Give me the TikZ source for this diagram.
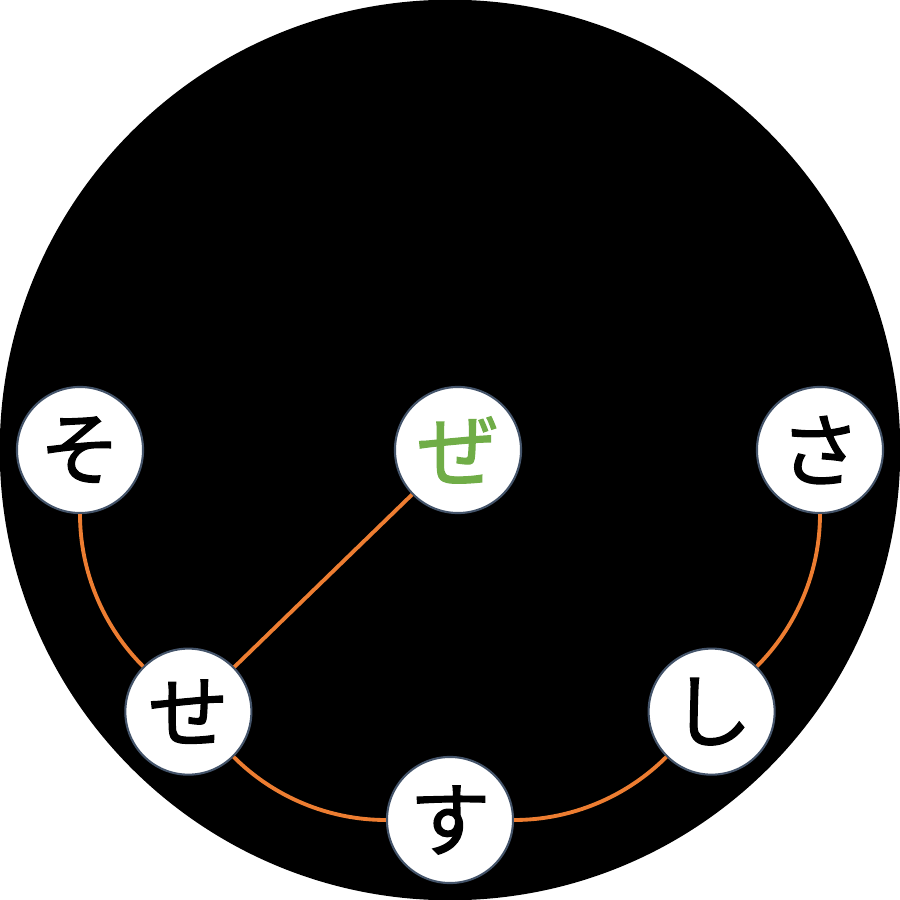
\documentclass[tikz,border=0pt]{standalone}
\usepackage{fontspec}
\newfontfamily\jpfont[FakeBold=1.6]{Noto Sans CJK JP}
\usepackage{tikz}
\definecolor{ringorange}{HTML}{ED7D31}
\definecolor{kanagreen}{HTML}{70AD47}
\definecolor{rimgray}{HTML}{44546A}

\begin{document}
\begin{tikzpicture}[
 x=0.01cm,y=0.01cm,
 font=\jpfont\fontsize{23}{23}\selectfont,
 kana/.style={circle,draw=rimgray,line width=0.6pt,fill=white,minimum size=1.26cm,inner sep=0pt},
 link/.style={draw=ringorange,line width=1.1pt},
 ring/.style={link,bend right=22.5,looseness=0.885}
]
\useasboundingbox (-450,-450) rectangle (450,450);
\fill[black] (0,0) circle[radius=4.5cm];
\node[kana] (so) at (180:370) {そ};
\node[kana] (se) at (225:370) {せ};
\node[kana] (su) at (270:370) {す};
\node[kana] (shi) at (315:370) {し};
\node[kana] (sa) at (0:370) {さ};
\node[kana,text=kanagreen] (ze) at (8,0) {ぜ};
\path (so) edge[ring] (se)
      (se) edge[ring] (su)
      (su) edge[ring] (shi)
      (shi) edge[ring] (sa)
      (se) edge[link] (ze);
\end{tikzpicture}
\end{document}
